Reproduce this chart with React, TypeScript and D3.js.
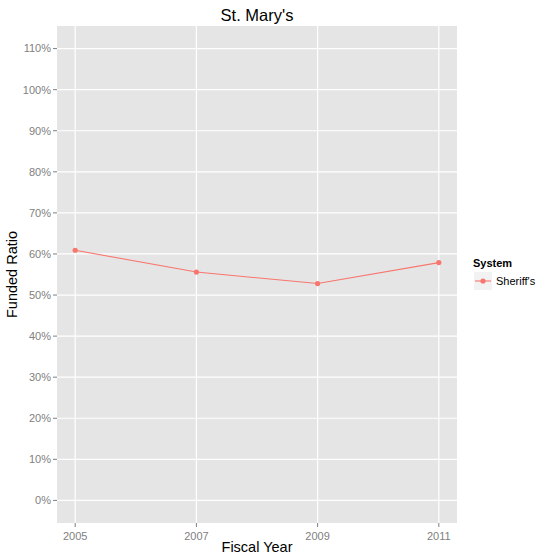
import React from "react";
import * as d3 from "d3";

const years = [2005, 2007, 2009, 2011];
const funded = [0.609, 0.556, 0.528, 0.579];
const yTicks = [0, 0.1, 0.2, 0.3, 0.4, 0.5, 0.6, 0.7, 0.8, 0.9, 1.0, 1.1];
const seriesName = "Sheriff's";

const W = 539;
const H = 557;
const panel = { left: 57, right: 457, top: 26, bottom: 523 };
const lineColor = "#f8766d";
const font = "Liberation Sans, Arial, sans-serif";

const App: React.FC = () => {
  const x = d3.scaleLinear().domain([2004.7, 2011.3]).range([panel.left, panel.right]);
  const y = d3.scaleLinear().domain([-0.055, 1.155]).range([panel.bottom, panel.top]);

  const line = d3
    .line<number>()
    .x((_, i) => x(years[i]))
    .y((d) => y(d));

  const cx = (panel.left + panel.right) / 2;
  const cy = (panel.top + panel.bottom) / 2;

  return (
    <div style={{ position: "absolute", left: 0, top: 0 }}>
      <svg width={W} height={H} style={{ display: "block", background: "#fff" }}>
        <rect
          x={panel.left}
          y={panel.top}
          width={panel.right - panel.left}
          height={panel.bottom - panel.top}
          fill="#e5e5e5"
        />
        {/* grid */}
        {yTicks.map((t) => (
          <line key={"gy" + t} x1={panel.left} x2={panel.right} y1={y(t)} y2={y(t)} stroke="#fff" strokeWidth={1.2} />
        ))}
        {years.map((t) => (
          <line key={"gx" + t} x1={x(t)} x2={x(t)} y1={panel.top} y2={panel.bottom} stroke="#fff" strokeWidth={1.2} />
        ))}
        {/* y axis */}
        {yTicks.map((t) => (
          <g key={"ty" + t}>
            <line x1={panel.left - 4} x2={panel.left} y1={y(t)} y2={y(t)} stroke="#7f7f7f" />
            <text
              x={panel.left - 6}
              y={y(t)}
              dy="0.35em"
              textAnchor="end"
              fontFamily={font}
              fontSize={11}
              fill="#808080"
            >
              {d3.format(".0%")(t)}
            </text>
          </g>
        ))}
        {/* x axis */}
        {years.map((t) => (
          <g key={"tx" + t}>
            <line x1={x(t)} x2={x(t)} y1={panel.bottom} y2={panel.bottom + 4} stroke="#7f7f7f" />
            <text x={x(t)} y={panel.bottom + 17} textAnchor="middle" fontFamily={font} fontSize={11} fill="#808080">
              {t}
            </text>
          </g>
        ))}
        {/* series */}
        <path d={line(funded) || ""} fill="none" stroke={lineColor} strokeWidth={1.1} />
        {funded.map((v, i) => (
          <circle key={"p" + i} cx={x(years[i])} cy={y(v)} r={2.6} fill={lineColor} />
        ))}
        {/* titles */}
        <text x={cx} y={21} textAnchor="middle" fontFamily={font} fontSize={16.5} fill="#000">
          St. Mary's
        </text>
        <text x={cx} y={552} textAnchor="middle" fontFamily={font} fontSize={14.5} fill="#000">
          Fiscal Year
        </text>
        <text
          transform={`translate(17,${cy}) rotate(-90)`}
          textAnchor="middle"
          fontFamily={font}
          fontSize={14.5}
          fill="#000"
        >
          Funded Ratio
        </text>
        {/* legend */}
        <text x={473} y={267} fontFamily={font} fontSize={11} fontWeight="bold" fill="#000">
          System
        </text>
        <rect x={474} y={272} width={18} height={18} fill="#f2f2f2" />
        <line x1={475} x2={491} y1={281} y2={281} stroke={lineColor} strokeWidth={1.1} />
        <circle cx={483} cy={281} r={2.6} fill={lineColor} />
        <text x={496} y={281} dy="0.35em" fontFamily={font} fontSize={11} fill="#000">
          {seriesName}
        </text>
      </svg>
    </div>
  );
};

export default App;
